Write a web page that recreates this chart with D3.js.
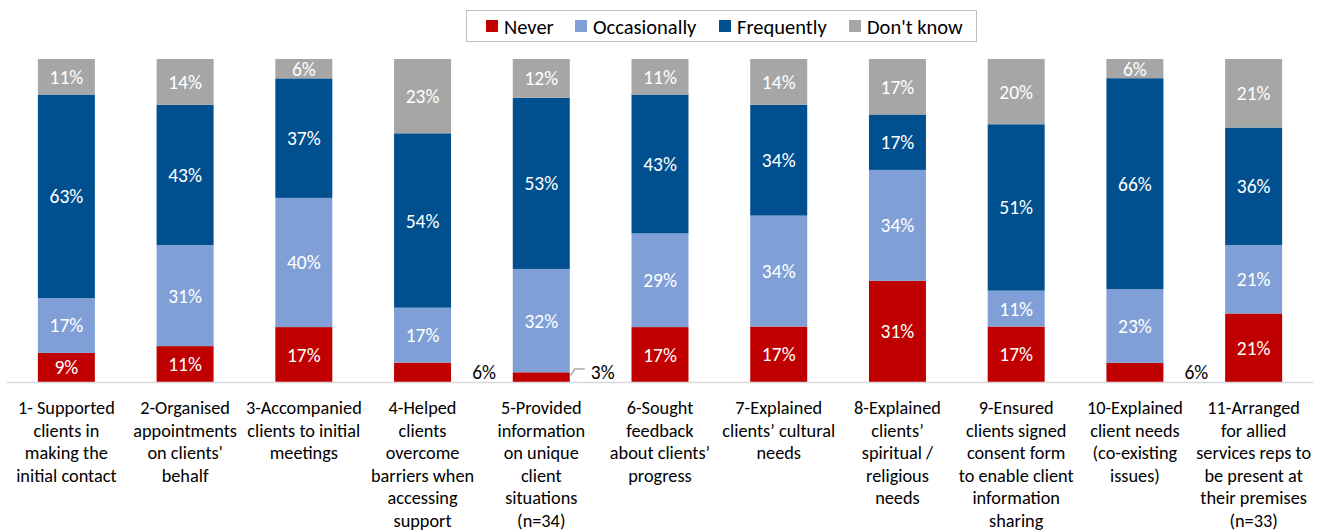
<!DOCTYPE html>
<html>
<head>
<meta charset="utf-8">
<script src="https://cdn.jsdelivr.net/npm/d3@7"></script>
<style>
  html, body { margin: 0; padding: 0; background: #fff; }
  svg { display: block; font-family: Carlito, Calibri, Lato, "Open Sans", sans-serif; }
</style>
</head>
<body>
<svg id="chart" width="1327" height="532"></svg>
<script>
// Survey activities (x-axis), one line per array entry
const categories = [
  ["1- Supported", "clients in", "making the", "initial contact"],
  ["2-Organised", "appointments", "on clients'", "behalf"],
  ["3-Accompanied", "clients to initial", "meetings"],
  ["4-Helped", "clients", "overcome", "barriers when", "accessing", "support"],
  ["5-Provided", "information", "on unique", "client", "situations", "(n=34)"],
  ["6-Sought", "feedback", "about clients’", "progress"],
  ["7-Explained", "clients’ cultural", "needs"],
  ["8-Explained", "clients’", "spiritual /", "religious", "needs"],
  ["9-Ensured", "clients signed", "consent form", "to enable client", "information", "sharing"],
  ["10-Explained", "client needs", "(co-existing", "issues)"],
  ["11-Arranged", "for allied", "services reps to", "be present at", "their premises", "(n=33)"]
];

const seriesNames = ["Never", "Occasionally", "Frequently", "Don't know"];

// Percentages per series, in category order
const never        = [9, 11, 17, 6, 3, 17, 17, 31, 17, 6, 21];
const occasionally = [17, 31, 40, 17, 32, 29, 34, 34, 11, 23, 21];
const frequently   = [63, 43, 37, 54, 53, 43, 34, 17, 51, 66, 36];
const dontKnow     = [11, 14, 6, 23, 12, 11, 14, 17, 20, 6, 21];

const colors = ["#C00000", "#7F9FD6", "#00508F", "#A6A6A6"];

const seriesValues = [never, occasionally, frequently, dontKnow];
const rows = categories.map((c, i) => {
  const r = { idx: i };
  seriesNames.forEach((s, k) => { r[s] = seriesValues[k][i]; });
  return r;
});

const svg = d3.select("#chart");
const margin = { left: 7, right: 14, top: 59 };
const W = 1327;
const plotBottom = 382;

const x = d3.scaleBand()
  .domain(d3.range(categories.length))
  .range([margin.left, W - margin.right])
  .paddingInner(0.52)
  .paddingOuter(0.26);

const y = d3.scaleLinear().domain([0, 1]).range([plotBottom, margin.top]);

const stack = d3.stack().keys(seriesNames).offset(d3.stackOffsetExpand);
const stacked = stack(rows);

// Bars
const layers = svg.append("g").selectAll("g")
  .data(stacked)
  .join("g")
  .attr("fill", (d, k) => colors[k]);

layers.selectAll("rect")
  .data(d => d)
  .join("rect")
  .attr("x", d => x(d.data.idx))
  .attr("width", x.bandwidth())
  .attr("y", d => y(d[1]))
  .attr("height", d => y(d[0]) - y(d[1]));

// Baseline
svg.append("line")
  .attr("x1", margin.left).attr("x2", W - margin.right)
  .attr("y1", plotBottom + 0.5).attr("y2", plotBottom + 0.5)
  .attr("stroke", "#D9D9D9").attr("stroke-width", 1.5);

// Value labels
const labelFont = 19.5;
stacked.forEach((layer, k) => {
  const key = layer.key;
  layer.forEach(d => {
    const v = d.data[key];
    const cx = x(d.data.idx) + x.bandwidth() / 2;
    const cy = (y(d[0]) + y(d[1])) / 2;
    if (v < 7 && k === 0) {
      // Too small to hold a label: place it to the right of the bar
      const edge = x(d.data.idx) + x.bandwidth();
      const lx = edge + 33;
      const ly = plotBottom - 10;
      if (v < 5) {
        svg.append("path")
          .attr("d", `M${edge + 1},${y(d[1]) + 3} L${edge + 5},${ly - 3} L${edge + 15},${ly - 3}`)
          .attr("fill", "none").attr("stroke", "#A6A6A6").attr("stroke-width", 1.5);
      }
      svg.append("text")
        .attr("x", lx).attr("y", ly)
        .attr("text-anchor", "middle").attr("dominant-baseline", "central")
        .attr("font-size", labelFont).attr("fill", "#000")
        .text(v + "%");
    } else {
      svg.append("text")
        .attr("x", cx).attr("y", cy)
        .attr("text-anchor", "middle").attr("dominant-baseline", "central")
        .attr("font-size", labelFont).attr("fill", "#fff")
        .text(v + "%");
    }
  });
});

// Category labels
const catG = svg.append("g");
categories.forEach((lines, i) => {
  const t = catG.append("text")
    .attr("x", x(i) + x.bandwidth() / 2)
    .attr("y", 414)
    .attr("text-anchor", "middle")
    .attr("font-size", 18.3)
    .attr("fill", "#000");
  lines.forEach((ln, j) => {
    t.append("tspan")
      .attr("x", x(i) + x.bandwidth() / 2)
      .attr("dy", j === 0 ? 0 : 22.6)
      .text(ln);
  });
});

// Legend
const legend = svg.append("g");
legend.append("rect")
  .attr("x", 466.5).attr("y", 10.5).attr("width", 510).attr("height", 31)
  .attr("fill", "#fff").attr("stroke", "#BFBFBF").attr("stroke-width", 1);
const legendX = [486, 575, 719, 849];
seriesNames.forEach((s, k) => {
  legend.append("rect")
    .attr("x", legendX[k]).attr("y", 20).attr("width", 12).attr("height", 12)
    .attr("fill", colors[k]);
  legend.append("text")
    .attr("x", legendX[k] + 18).attr("y", 26.5)
    .attr("dominant-baseline", "central")
    .attr("font-size", 20.5).attr("fill", "#000")
    .text(s);
});
</script>
</body>
</html>
